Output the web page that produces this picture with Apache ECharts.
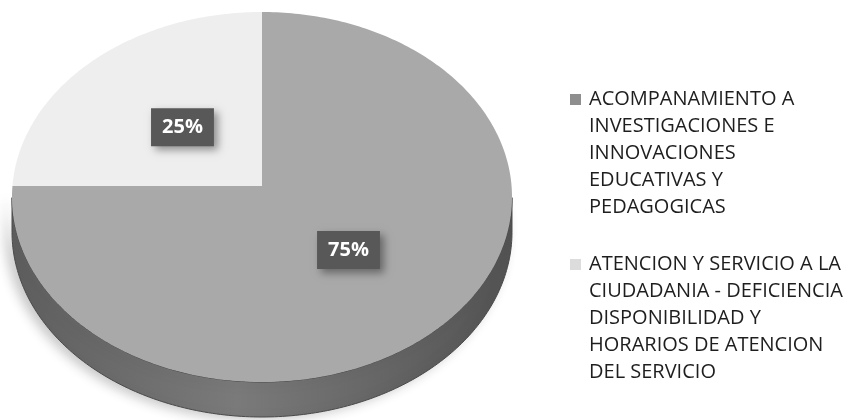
<!DOCTYPE html>
<html>
<head>
<meta charset="utf-8">
<script src="https://cdn.jsdelivr.net/npm/echarts@6/dist/echarts.min.js"></script>
<style>
html, body { margin: 0; padding: 0; background: #fff; }
#chart { width: 852px; height: 420px; }
</style>
</head>
<body>
<div id="chart"></div>
<script>
const categories = [
  "ACOMPANAMIENTO A\nINVESTIGACIONES E\nINNOVACIONES\nEDUCATIVAS Y\nPEDAGOGICAS",
  "ATENCION Y SERVICIO A LA\nCIUDADANIA - DEFICIENCIA\nDISPONIBILIDAD Y\nHORARIOS DE ATENCION\nDEL SERVICIO"
];
const values = [75, 25];

const topColors = ["#a9a9a9", "#eeeeee"];
const legendColors = ["#8e8e8e", "#dcdcdc"];

// tilted pie geometry (apex sits a bit above the ellipse centre, like Excel's perspective)
const pie = { cx: 262, cy: 197, rx: 250, ry: 185, apexY: 186, depth: 35 };
let total = values.reduce((a, b) => a + b, 0);

// point on the rim for an angle measured clockwise from 12 o'clock
function rimPoint(theta) {
  let dx = pie.rx * Math.sin(theta);
  let dy = -pie.ry * Math.cos(theta);
  let v0 = (pie.apexY - pie.cy) / pie.ry;
  let u1 = dx / pie.rx, v1 = dy / pie.ry;
  let A = u1 * u1 + v1 * v1, B = v0 * v1, C = v0 * v0 - 1;
  let s = (-B + Math.sqrt(B * B - A * C)) / A;
  return [pie.cx + s * dx, pie.apexY + s * dy];
}

function renderSlice(params, api) {
  let i = params.seriesIndex;
  let value = api.value(0);
  let start = values.slice(0, i).reduce((a, b) => a + b, 0);
  let a0 = start / total * Math.PI * 2;
  let a1 = (start + value) / total * Math.PI * 2;
  let n = Math.max(8, Math.round(400 * (a1 - a0) / (Math.PI * 2)));
  let arc = [];
  for (let k = 0; k <= n; k++) {
    arc.push(rimPoint(a0 + (a1 - a0) * k / n));
  }
  let children = [];
  let front = arc.filter(p => p[1] >= pie.cy);
  if (front.length > 1) {
    let side = front.concat(front.slice().reverse().map(p => [p[0], p[1] + pie.depth]));
    children.push({
      type: "polygon",
      shape: { points: side },
      style: {
        fill: new echarts.graphic.LinearGradient(0, 0, 1, 0, [
          { offset: 0, color: "#5e5e5e" },
          { offset: 0.45, color: "#7a7a7a" },
          { offset: 1, color: "#535353" }
        ]),
        stroke: "#4a4a4a",
        lineWidth: 1,
        shadowBlur: 12,
        shadowColor: "rgba(0,0,0,0.22)",
        shadowOffsetX: -6,
        shadowOffsetY: 2
      }
    });
  }
  children.push({
    type: "polygon",
    shape: { points: [[pie.cx, pie.apexY]].concat(arc) },
    style: { fill: topColors[i] }
  });
  let mid = rimPoint((a0 + a1) / 2);
  children.push({
    type: "text",
    x: pie.cx + 0.47 * (mid[0] - pie.cx),
    y: pie.apexY + 0.47 * (mid[1] - pie.apexY),
    style: {
      text: Math.round(value / total * 100) + "%",
      fill: "#ffffff",
      fontFamily: "Open Sans",
      fontWeight: "bold",
      fontSize: 20,
      lineHeight: 24,
      align: "center",
      verticalAlign: "middle",
      backgroundColor: "#585858",
      padding: [7, 11],
      shadowBlur: 8,
      shadowColor: "rgba(0,0,0,0.4)",
      shadowOffsetX: 4,
      shadowOffsetY: 4
    }
  });
  return { type: "group", children: children };
}

let myChart = echarts.init(document.getElementById("chart"));

let rich = {
  gap: { width: 8 },
  ind: { width: 19 }
};
legendColors.forEach((c, i) => {
  rich["sq" + i] = { width: 11, height: 11, backgroundColor: c };
});

let option = {
  animation: false,
  backgroundColor: "#ffffff",
  legend: {
    orient: "vertical",
    left: 565,
    top: 86,
    padding: 0,
    itemGap: 30,
    icon: "none",
    itemWidth: 0,
    itemHeight: 11,
    selectedMode: false,
    data: categories,
    formatter: function (name) {
      let i = categories.indexOf(name);
      let lines = name.split("\n");
      return "{sq" + i + "|}{gap|}" + lines[0] + "\n" +
        lines.slice(1).map(l => "{ind|}" + l).join("\n");
    },
    textStyle: {
      fontFamily: "Open Sans",
      fontSize: 20,
      lineHeight: 27,
      color: "#1e1e1e",
      rich: rich
    }
  },
  series: categories.map((name, i) => ({
    name: name,
    type: "custom",
    coordinateSystem: "none",
    itemStyle: { color: topColors[i] },
    renderItem: renderSlice,
    data: [[values[i]]]
  }))
};
myChart.setOption(option);
</script>
</body>
</html>
